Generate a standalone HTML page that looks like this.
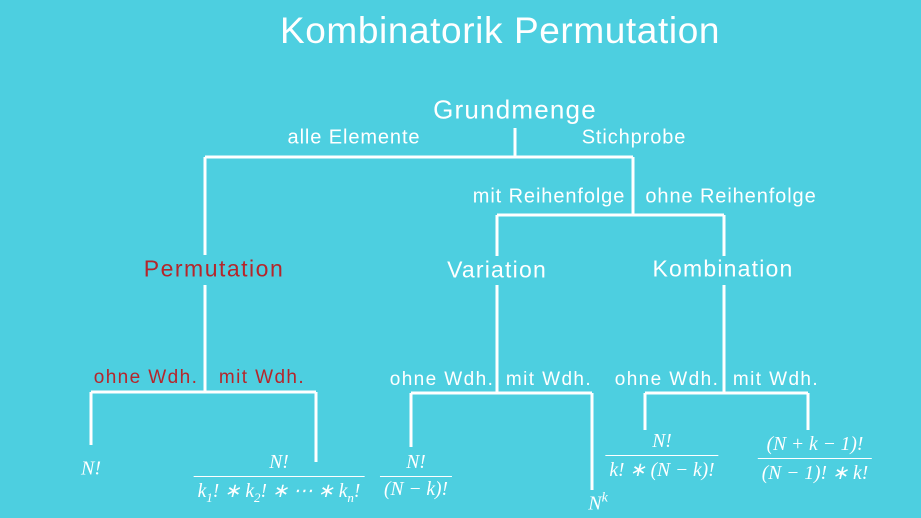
<!DOCTYPE html>
<html><head><meta charset="utf-8"><style>
body{margin:0;width:921px;height:518px;background:#4dcfe0;overflow:hidden;position:relative;font-family:"Liberation Sans",sans-serif;color:#fff}
.t{position:absolute;white-space:nowrap;transform:translate(-50%,-50%)}
.l{font-size:20px;letter-spacing:0.9px}
.w{font-size:19px;letter-spacing:1.4px}
.r{color:#b5262b}
.m{font-family:"Liberation Serif",serif;font-style:italic;font-size:20px}
.frac{position:absolute;transform:translateX(-50%);text-align:center;font-family:"Liberation Serif",serif;font-style:italic;font-size:19.5px;white-space:nowrap}
.frac .n{padding:0 4px 2px}
.frac .d{border-top:1.5px solid #fff;padding:2px 4px 0}
</style></head><body>
<svg width="921" height="518" style="position:absolute;left:0;top:0" fill="none" stroke="#fff" stroke-width="3">
<path d="M515 128V157M205 157H633M205 157V255M633 157V215M497 215H724M497 215V256M724 215V256"/>
<path d="M205 285V392M91 392H316M91 392V445M316 392V462"/>
<path d="M497 285V393M411 393H592M411 393V447M592 393V490"/>
<path d="M724 285V393M645 393H808M645 393V430M808 393V430"/>
</svg>
<div class="t" style="left:500px;top:31px;font-size:37px;letter-spacing:0.6px">Kombinatorik Permutation</div>
<div class="t" style="left:515px;top:110px;font-size:26px;letter-spacing:1.2px">Grundmenge</div>
<div class="t l" style="left:354px;top:138px">alle Elemente</div>
<div class="t l" style="left:634px;top:138px">Stichprobe</div>
<div class="t l" style="left:549px;top:197px">mit Reihenfolge</div>
<div class="t l" style="left:731px;top:197px">ohne Reihenfolge</div>
<div class="t r" style="left:214px;top:269px;font-size:23px;letter-spacing:1.5px">Permutation</div>
<div class="t" style="left:497px;top:270px;font-size:23px;letter-spacing:1.2px">Variation</div>
<div class="t" style="left:723px;top:269px;font-size:23px;letter-spacing:1.2px">Kombination</div>
<div class="t r w" style="left:146px;top:378px">ohne Wdh.</div>
<div class="t r w" style="left:262px;top:378px">mit Wdh.</div>
<div class="t w" style="left:442px;top:380px">ohne Wdh.</div>
<div class="t w" style="left:549px;top:380px">mit Wdh.</div>
<div class="t w" style="left:667px;top:380px">ohne Wdh.</div>
<div class="t w" style="left:776px;top:380px">mit Wdh.</div>
<div class="t m" style="left:91px;top:469px">N!</div>
<div class="frac" style="left:279px;top:452px"><div class="n">N!</div><div class="d">k<sub style="font-size:13px">1</sub>! ∗ k<sub style="font-size:13px">2</sub>! ∗ ⋯ ∗ k<sub style="font-size:13px">n</sub>!</div></div>
<div class="frac" style="left:416px;top:452px"><div class="n">N!</div><div class="d">(N − k)!</div></div>
<div class="t m" style="left:598px;top:503px">N<sup style="font-size:14px">k</sup></div>
<div class="frac" style="left:662px;top:431px"><div class="n">N!</div><div class="d">k! ∗ (N − k)!</div></div>
<div class="frac" style="left:815px;top:434px"><div class="n">(N + k − 1)!</div><div class="d">(N − 1)! ∗ k!</div></div>
</body></html>
